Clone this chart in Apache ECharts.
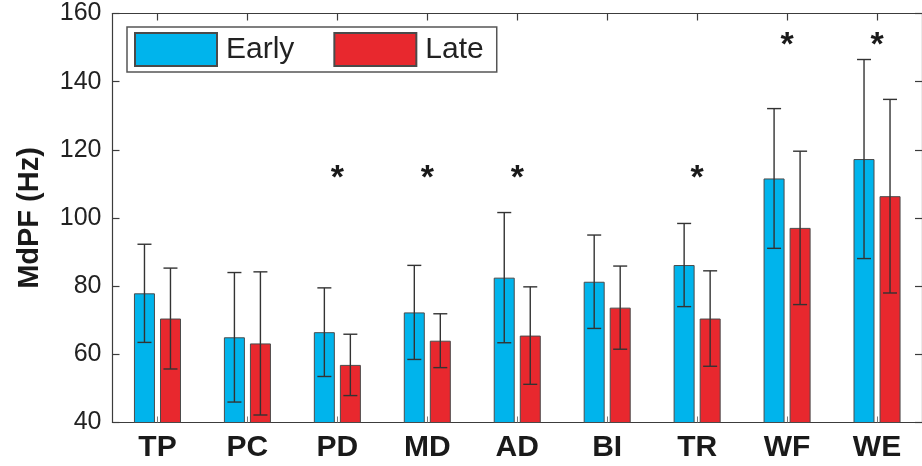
<!DOCTYPE html>
<html>
<head>
<meta charset="utf-8">
<script src="https://cdn.jsdelivr.net/npm/echarts@6/dist/echarts.min.js"></script>
<style>
  html, body { margin: 0; padding: 0; background: #fff; }
  #chart { width: 922px; height: 466px; }
</style>
</head>
<body>
<div id="chart"></div>
<script>
// Muscle groups
const categories = ['TP', 'PC', 'PD', 'MD', 'AD', 'BI', 'TR', 'WF', 'WE'];
// Median power frequency (Hz), mean and SD per phase
const earlyMean = [77.9, 65.0, 66.5, 72.3, 82.5, 81.3, 86.2, 111.6, 117.3];
const earlySd   = [14.4, 19.0, 13.0, 13.8, 19.1, 13.7, 12.2, 20.5, 29.2];
const lateMean  = [70.5, 63.2, 56.9, 64.0, 65.5, 73.7, 70.5, 97.1, 106.4];
const lateSd    = [14.8, 21.0, 9.0, 7.9, 14.3, 12.2, 14.0, 22.5, 28.4];
// Significant differences: muscle and height of the marker (Hz)
const sigMuscles = ['PD', 'MD', 'AD', 'TR', 'WF', 'WE'];
const sigLevel   = [113, 113, 113, 113, 152, 152];
const yTicks = [40, 60, 80, 100, 120, 140, 160];

const BAR_W = 21;
const BAR_SHIFT = 13;   // half of bar width plus half the gap between paired bars
const CAP_W = 14;
const STAR_LIFT = 12;   // glyph sits low in its text box; lift it so its centre is on the level

function errData(mean, sd) {
  return mean.map((m, i) => [i, m, sd[i]]);
}

function errRender(shift) {
  return function (params, api) {
    const i = api.value(0), m = api.value(1), s = api.value(2);
    const hi = api.coord([i, m + s]);
    const lo = api.coord([i, m - s]);
    const x = hi[0] + shift;
    const style = { stroke: '#333', lineWidth: 1.4 };
    return {
      type: 'group',
      children: [
        { type: 'line', shape: { x1: x, y1: hi[1], x2: x, y2: lo[1] }, style },
        { type: 'line', shape: { x1: x - CAP_W / 2, y1: hi[1], x2: x + CAP_W / 2, y2: hi[1] }, style },
        { type: 'line', shape: { x1: x - CAP_W / 2, y1: lo[1], x2: x + CAP_W / 2, y2: lo[1] }, style }
      ]
    };
  };
}

const axisLine = { show: true, lineStyle: { color: '#3c3c3c', width: 1.2 } };

const chart = echarts.init(document.getElementById('chart'));
chart.setOption({
  animation: false,
  backgroundColor: '#fff',
  textStyle: { fontFamily: 'Liberation Sans, Arial, Helvetica, sans-serif' },
  grid: { left: 112.5, top: 13.5, width: 816, height: 409, containLabel: false },
  legend: {
    data: ['Early', 'Late'],
    left: 127,
    top: 27,
    orient: 'horizontal',
    padding: [5, 13, 5, 7],
    borderColor: '#555',
    borderWidth: 1.5,
    itemGap: 39,
    itemWidth: 82,
    itemHeight: 33,
    icon: 'rect',
    textStyle: { fontSize: 30, color: '#222', lineHeight: 33, padding: [0, 0, 0, 4] }
  },
  xAxis: [
    {
      type: 'category',
      data: categories,
      position: 'bottom',
      boundaryGap: true,
      axisLine,
      axisTick: { show: true, inside: true, alignWithLabel: true, length: 6, lineStyle: { color: '#777', width: 1 } },
      axisLabel: { fontSize: 30, fontWeight: 'bold', color: '#1a1a1a', margin: 10 },
      splitLine: { show: false }
    },
    {
      type: 'category',
      data: categories,
      position: 'top',
      boundaryGap: true,
      axisLine,
      axisTick: { show: true, inside: true, alignWithLabel: true, length: 7, lineStyle: { color: '#3c3c3c', width: 1.2 } },
      axisLabel: { show: false },
      splitLine: { show: false }
    }
  ],
  yAxis: [
    {
      type: 'value',
      min: yTicks[0],
      max: yTicks[yTicks.length - 1],
      interval: 20,
      position: 'left',
      axisLine,
      axisTick: { show: true, inside: true, length: 7, lineStyle: { color: '#3c3c3c', width: 1.2 } },
      axisLabel: { fontSize: 25, color: '#222', margin: 11 },
      splitLine: { show: false },
      name: 'MdPF (Hz)',
      nameLocation: 'middle',
      nameRotate: 90,
      nameGap: 68,
      nameTextStyle: { fontSize: 29, fontWeight: 'bold', color: '#1a1a1a' }
    },
    {
      type: 'value',
      min: yTicks[0],
      max: yTicks[yTicks.length - 1],
      interval: 20,
      position: 'right',
      axisLine,
      axisTick: { show: true, inside: true, length: 7, lineStyle: { color: '#3c3c3c', width: 1.2 } },
      axisLabel: { show: false },
      splitLine: { show: false }
    }
  ],
  series: [
    {
      name: 'Early',
      type: 'bar',
      data: earlyMean,
      barWidth: BAR_W,
      barGap: '24%',
      itemStyle: { color: '#00B4EC', borderColor: '#4a4a4a', borderWidth: 1 }
    },
    {
      name: 'Late',
      type: 'bar',
      data: lateMean,
      barWidth: BAR_W,
      barGap: '24%',
      itemStyle: { color: '#E8282E', borderColor: '#4a4a4a', borderWidth: 1 }
    },
    {
      name: 'Early SD',
      type: 'custom',
      renderItem: errRender(-BAR_SHIFT),
      data: errData(earlyMean, earlySd),
      encode: { x: 0, y: 1 },
      z: 5,
      silent: true
    },
    {
      name: 'Late SD',
      type: 'custom',
      renderItem: errRender(BAR_SHIFT),
      data: errData(lateMean, lateSd),
      encode: { x: 0, y: 1 },
      z: 5,
      silent: true
    },
    {
      name: 'Significance',
      type: 'custom',
      data: sigMuscles.map((m, i) => [categories.indexOf(m), sigLevel[i]]),
      encode: { x: 0, y: 1 },
      z: 6,
      silent: true,
      renderItem: function (params, api) {
        const p = api.coord([api.value(0), api.value(1)]);
        return {
          type: 'text',
          x: p[0],
          y: p[1] - STAR_LIFT,
          style: {
            text: '*',
            fill: '#1a1a1a',
            font: 'bold 34px Liberation Sans, Arial, sans-serif',
            align: 'center',
            verticalAlign: 'top'
          }
        };
      }
    }
  ]
});
</script>
</body>
</html>
